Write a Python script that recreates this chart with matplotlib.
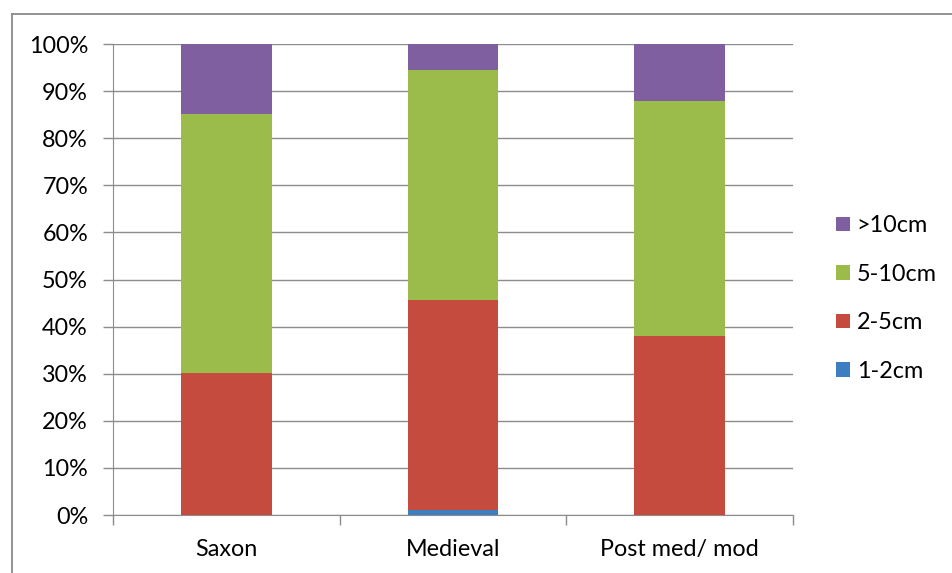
import matplotlib
matplotlib.use("Agg")
import matplotlib.pyplot as plt
from matplotlib.lines import Line2D
from matplotlib.patches import Patch
import numpy as np

plt.rcParams['font.family'] = ['Lato', 'DejaVu Sans']

# share of each size class per period (%)
periods = ["Saxon", "Medieval", "Post med/ mod"]
sizes = ["1-2cm", "2-5cm", "5-10cm", ">10cm"]
pct_1_2 = [0.0, 1.1, 0.0]
pct_2_5 = [30.1, 44.5, 38.1]
pct_5_10 = [55.0, 48.9, 49.8]
pct_10 = [14.9, 5.5, 12.1]
colors = ["#3C7EC0", "#C64B3F", "#9BBB4A", "#7F5FA0"]

series = [pct_1_2, pct_2_5, pct_5_10, pct_10]
fs = 16.8

fig = plt.figure(figsize=(9.52, 5.73), dpi=100)
ax = fig.add_axes([0.1187, 0.1012, 0.833 - 0.1187, 0.9232 - 0.1012])

x = np.arange(len(periods))
bottom = np.zeros(len(periods))
for vals, col in zip(series, colors):
    v = np.array(vals) / 100.0
    ax.bar(x, v, width=0.4, bottom=bottom, color=col, zorder=3)
    bottom += v

ax.set_xlim(-0.5, 2.5)
ax.set_ylim(0, 1)
ax.set_yticks(np.arange(0, 1.01, 0.1))
ax.set_yticklabels([f"{int(round(t * 100))}%" for t in np.arange(0, 1.01, 0.1)])
ax.yaxis.grid(True, color="#8c8c8c", lw=1.0, zorder=0)

ax.set_xticks(x)
ax.set_xticklabels(periods)
ax.set_xticks([-0.5, 0.5, 1.5, 2.5], minor=True)
ax.tick_params(axis="x", which="major", length=0, pad=17, labelsize=fs, colors="#000000")
ax.tick_params(axis="x", which="minor", length=7, width=1.0, color="#8c8c8c", direction="out")
ax.tick_params(axis="y", length=7, width=1.0, color="#8c8c8c", pad=11, labelsize=fs)

for s in ["top", "right"]:
    ax.spines[s].set_visible(False)
ax.spines["left"].set_color("#8c8c8c")
ax.spines["bottom"].set_color("#8c8c8c")

handles = [Patch(facecolor=c, edgecolor="none") for c in colors][::-1]
fig.legend(handles, sizes[::-1], loc="center left", bbox_to_anchor=(0.878, 0.479),
           frameon=False, fontsize=fs, borderpad=0, borderaxespad=0,
           handlelength=0.6, handleheight=0.6, handletextpad=0.3, labelspacing=1.18)

# chart frame (top and left edges)
top_y = 1 - 14 / 573
left_x = 12 / 952
fig.add_artist(Line2D([left_x, 1], [top_y, top_y], color="#8a8a8a", lw=1.3))
fig.add_artist(Line2D([left_x, left_x], [0, top_y], color="#8a8a8a", lw=1.3))

fig.savefig("out.png", dpi=100)
